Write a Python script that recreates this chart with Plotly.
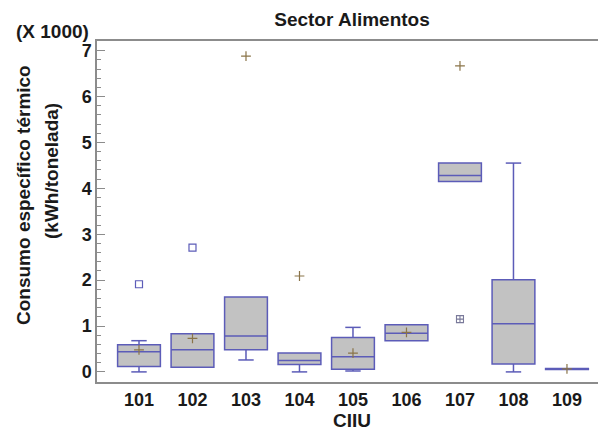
import plotly.graph_objects as go

# ---- data (values in thousands of kWh/tonelada) ----
categories = ["101", "102", "103", "104", "105", "106", "107", "108", "109"]
q1 =         [0.12, 0.10, 0.48, 0.16, 0.06, 0.68, 4.15, 0.17, 0.055]
median =     [0.44, 0.48, 0.78, 0.25, 0.33, 0.84, 4.28, 1.05, 0.065]
q3 =         [0.59, 0.83, 1.63, 0.41, 0.75, 1.03, 4.55, 2.01, 0.075]
lowerfence = [0.00, 0.10, 0.26, 0.00, 0.02, 0.68, 4.15, 0.00, 0.055]
upperfence = [0.68, 0.83, 1.63, 0.41, 0.97, 1.03, 4.55, 4.55, 0.075]
means =      [0.48, 0.73, 6.88, 2.09, 0.41, 0.86, 6.67, None, 0.065]
outlier_cat = ["101", "102"]
outlier_val = [1.91, 2.71]
far_outlier_cat = ["107"]
far_outlier_val = [1.15]

BOX_LINE = "#5c5cb8"
BOX_FILL = "#c2c2c2"
MEAN_COL = "#8a7448"
AXIS_COL = "#8c8c8c"
FONT = "Liberation Sans"

fig = go.Figure()

fig.add_trace(go.Box(
    x=categories, q1=q1, median=median, q3=q3,
    lowerfence=lowerfence, upperfence=upperfence,
    boxpoints=False, width=0.8, whiskerwidth=0,
    fillcolor=BOX_FILL, line=dict(color=BOX_LINE, width=1.5),
    showlegend=False, hoverinfo="skip",
))

# whisker caps
cap_x, cap_y = [], []
for c, lo, a, b, hi in zip(categories, lowerfence, q1, q3, upperfence):
    if lo < a:
        cap_x.append(c); cap_y.append(lo)
    if hi > b:
        cap_x.append(c); cap_y.append(hi)
fig.add_trace(go.Scatter(
    x=cap_x, y=cap_y, mode="markers",
    marker=dict(symbol="line-ew", size=11, line=dict(color=BOX_LINE, width=1.5)),
    showlegend=False, hoverinfo="skip",
))

# means
mx = [c for c, m in zip(categories, means) if m is not None]
my = [m for m in means if m is not None]
fig.add_trace(go.Scatter(
    x=mx, y=my, mode="markers",
    marker=dict(symbol="cross-thin", size=7, line=dict(color=MEAN_COL, width=1.2)),
    showlegend=False, hoverinfo="skip",
))

# outliers
fig.add_trace(go.Scatter(
    x=outlier_cat, y=outlier_val, mode="markers",
    marker=dict(symbol="square-open", size=7, color=BOX_LINE, line=dict(width=1.2)),
    showlegend=False, hoverinfo="skip",
))
fig.add_trace(go.Scatter(
    x=far_outlier_cat, y=far_outlier_val, mode="markers",
    marker=dict(symbol="square-cross-open", size=7, color="#7a7a9a", line=dict(width=1.1)),
    showlegend=False, hoverinfo="skip",
))

fig.update_layout(
    width=598, height=432,
    margin=dict(l=97, r=0, t=41, b=50),
    paper_bgcolor="white", plot_bgcolor="white",
    font=dict(family=FONT, color="#1a1a1a"),
    title=dict(text="Sector Alimentos", x=352 / 598, xanchor="center",
               y=1 - 19 / 432, yanchor="middle", yref="container",
               font=dict(size=19, weight="bold", family=FONT, color="#1a1a1a")),
    xaxis=dict(type="category", range=[-0.785, 8.58], showgrid=False, zeroline=False,
               showline=True, linecolor=AXIS_COL, linewidth=1.8, mirror=True,
               ticks="", tickfont=dict(size=18, weight="bold", family=FONT, color="#1a1a1a")),
    yaxis=dict(range=[-0.22, 7.21], dtick=1, tick0=0, showgrid=False, zeroline=False,
               showline=True, linecolor=AXIS_COL, linewidth=1.5,
               ticks="inside", ticklen=8, tickcolor=AXIS_COL, tickwidth=1.2,
               minor=dict(dtick=0.2, ticks="inside", ticklen=4, tickcolor=AXIS_COL, tickwidth=1),
               tickfont=dict(size=18, weight="bold", family=FONT, color="#1a1a1a")),
    annotations=[
        dict(text="(X 1000)", xref="paper", yref="paper", x=(91 - 97) / 501, xanchor="right",
             y=(382 - 31) / 341, yanchor="middle", showarrow=False,
             font=dict(size=19, weight="bold", family=FONT, color="#1a1a1a")),
        dict(text="Consumo específico térmico", xref="paper", yref="paper",
             x=(23 - 97) / 501, xanchor="center", y=(382 - 195) / 341, yanchor="middle",
             textangle=-90, showarrow=False,
             font=dict(size=19, weight="bold", family=FONT, color="#1a1a1a")),
        dict(text="(kWh/tonelada)", xref="paper", yref="paper",
             x=(51 - 97) / 501, xanchor="center", y=(382 - 171) / 341, yanchor="middle",
             textangle=-90, showarrow=False,
             font=dict(size=19, weight="bold", family=FONT, color="#1a1a1a")),
        dict(text="CIIU", xref="paper", yref="paper",
             x=(352 - 97) / 501, xanchor="center", y=(382 - 421) / 341, yanchor="middle",
             showarrow=False,
             font=dict(size=19, weight="bold", family=FONT, color="#1a1a1a")),
    ],
)

fig.write_html("out.html")
